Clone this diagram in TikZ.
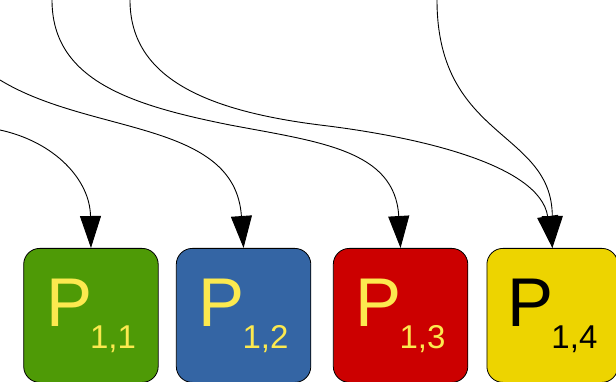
\documentclass[tikz,border=0pt]{standalone}
\usepackage{fontspec}
\setsansfont{Liberation Sans}
\usetikzlibrary{positioning,arrows.meta}
\definecolor{pgreen}{HTML}{4E9A06}
\definecolor{pblue}{HTML}{3465A4}
\definecolor{pred}{HTML}{CC0000}
\definecolor{pyellow}{HTML}{EDD400}
\definecolor{ptext}{HTML}{FCE94F}

\begin{document}
\begin{tikzpicture}[x=1pt, y=-1pt, pbox/.style={draw=black, line width=0.8pt, rounded corners=16pt, minimum width=134.5pt, minimum height=134pt, inner sep=0pt, text=ptext, font=\sffamily\fontsize{69}{69}\selectfont}, arrow/.style={draw, line width=0.9pt, -{Triangle[length=32pt,width=21pt]}}]
    \clip (0,0) rectangle (616,382);
    % boxes
    \node[pbox, fill=pgreen, anchor=north west] (P11) at (23.3,248) {P\kern-2pt\raisebox{-22pt}{\fontsize{33}{33}\selectfont 1,1}};
    \node[pbox, fill=pblue] (P12) [right=17.3pt of P11] {P\kern-2pt\raisebox{-22pt}{\fontsize{33}{33}\selectfont 1,2}};
    \node[pbox, fill=pred] (P13) [right=21.7pt of P12] {P\kern-2pt\raisebox{-22pt}{\fontsize{33}{33}\selectfont 1,3}};
    \node[pbox, fill=pyellow, text=black, minimum width=131pt] (P14) [right=18.3pt of P13] {P\kern-2pt\raisebox{-22pt}{\fontsize{33}{33}\selectfont 1,4}};

    % free ends
    \coordinate (in1) at (0,130);
    \coordinate (in2) at (0,80);
    \coordinate (in3) at (52,0);
    \coordinate (in4) at (130,0);
    \coordinate (in5) at (437,0);

    % arrows
    \draw[arrow] (in1) .. controls (55,142) and (90,180) .. (P11.north);
    \draw[arrow] (in2) .. controls (90,135) and (235,120) .. (P12.north);
    \draw[arrow] (in3) .. controls (52,80) and (130,105) .. (230,125) .. controls (320,142) and (395,150) .. (P13.north);
    \draw[arrow] (in4) .. controls (130,75) and (200,110) .. (320,125) .. controls (420,137) and (540,165) .. (P14.north);
    \draw[arrow] (in5) .. controls (437,140) and (552,130) .. (P14.north);
\end{tikzpicture}
\end{document}
